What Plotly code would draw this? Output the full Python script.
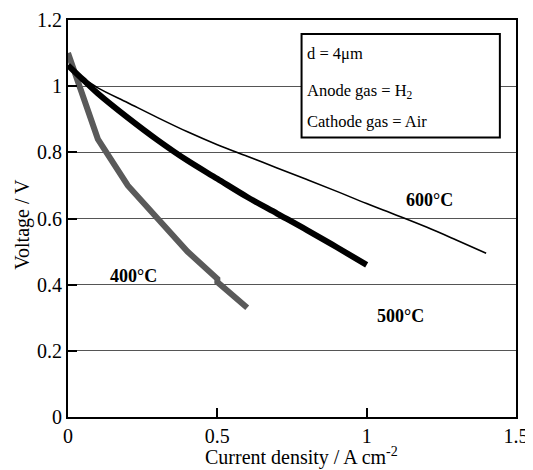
import plotly.graph_objects as go

# 600 °C (thin black line)
x600 = [0, 0.05, 0.1, 0.2, 0.3, 0.4, 0.5, 0.6, 0.7, 0.8, 0.9, 1.0, 1.1, 1.2, 1.3, 1.4]
y600 = [1.06, 1.025, 0.995, 0.95, 0.905, 0.862, 0.823, 0.788, 0.753, 0.718, 0.682, 0.645, 0.61, 0.574, 0.535, 0.495]

# 500 °C (thick black line)
x500 = [0, 0.05, 0.1, 0.2, 0.3, 0.4, 0.5, 0.6, 0.7, 0.8, 0.9, 1.0]
y500 = [1.063, 1.02, 0.978, 0.905, 0.837, 0.775, 0.72, 0.665, 0.615, 0.565, 0.513, 0.46]

# 400 °C (grey line)
x400 = [0, 0.1, 0.2, 0.3, 0.4, 0.5, 0.5, 0.6]
y400 = [1.1, 0.84, 0.70, 0.60, 0.50, 0.418, 0.408, 0.33]

x_ticks = [0, 0.5, 1, 1.5]
x_tick_labels = ["0", "0.5", "1", "1.5"]
y_ticks = [0, 0.2, 0.4, 0.6, 0.8, 1.0, 1.2]
y_tick_labels = ["0", "0.2", "0.4", "0.6", "0.8", "1", "1.2"]

FONT = "Liberation Serif, Times New Roman, serif"

fig = go.Figure()
fig.add_trace(go.Scatter(x=x400, y=y400, mode="lines",
                         line=dict(color="#5a5a5a", width=6), showlegend=False))
fig.add_trace(go.Scatter(x=x500, y=y500, mode="lines",
                         line=dict(color="black", width=6, shape="spline"), showlegend=False))
fig.add_trace(go.Scatter(x=x600, y=y600, mode="lines",
                         line=dict(color="black", width=1.6, shape="spline"), showlegend=False))

# info box
fig.add_shape(type="rect", xref="x", yref="y", x0=0.782, x1=1.446, y0=0.845, y1=1.158,
              line=dict(color="black", width=2), fillcolor="white", layer="above")

box_lines = ["d = 4μm", "Anode gas = H<sub>2</sub>", "Cathode gas = Air"]
box_y = [1.098, 0.985, 0.893]
for t, yy in zip(box_lines, box_y):
    fig.add_annotation(x=0.792, y=yy, text=t, showarrow=False, xanchor="left",
                       font=dict(family=FONT, size=16.5, color="black"))

labels = ["600°C", "500°C", "400°C"]
lx = [1.21, 1.114, 0.22]
ly = [0.655, 0.306, 0.427]
for t, xx, yy in zip(labels, lx, ly):
    fig.add_annotation(x=xx, y=yy, text="<b>%s</b>" % t, showarrow=False,
                       font=dict(family=FONT, size=18, color="black"))

# axis titles
fig.add_annotation(xref="paper", yref="paper", x=0.522, y=0, yshift=-39,
                   text="Current density / A cm<sup>-2</sup>", showarrow=False,
                   xanchor="center", yanchor="middle",
                   font=dict(family=FONT, size=20, color="black"))
fig.add_annotation(xref="paper", yref="paper", x=0, xshift=-45, y=0.484,
                   text="Voltage / V", showarrow=False, textangle=-90,
                   xanchor="center", yanchor="middle",
                   font=dict(family=FONT, size=20, color="black"))

# page body has an 8px default margin, so the figure is 8px smaller and offset
fig.update_layout(
    width=525, height=462,
    margin=dict(l=60, r=17, t=12, b=53),
    plot_bgcolor="white", paper_bgcolor="white",
    font=dict(family=FONT, size=20, color="black"),
    xaxis=dict(range=[0, 1.5], tickvals=x_ticks, ticktext=x_tick_labels,
               showgrid=False, zeroline=False, showline=True, linecolor="black",
               linewidth=2, mirror=True, ticks="inside", ticklen=9, tickwidth=2,
               tickcolor="black", tickfont=dict(family=FONT, size=20),
               automargin=False),
    yaxis=dict(range=[0, 1.2], tickvals=y_ticks, ticktext=y_tick_labels,
               showgrid=True, gridcolor="#555555", gridwidth=1.3, zeroline=False,
               showline=True, linecolor="black", linewidth=2, mirror=True,
               ticks="inside", ticklen=9, tickwidth=2, tickcolor="black",
               tickfont=dict(family=FONT, size=20), automargin=False),
)

fig.write_html("out.html")
